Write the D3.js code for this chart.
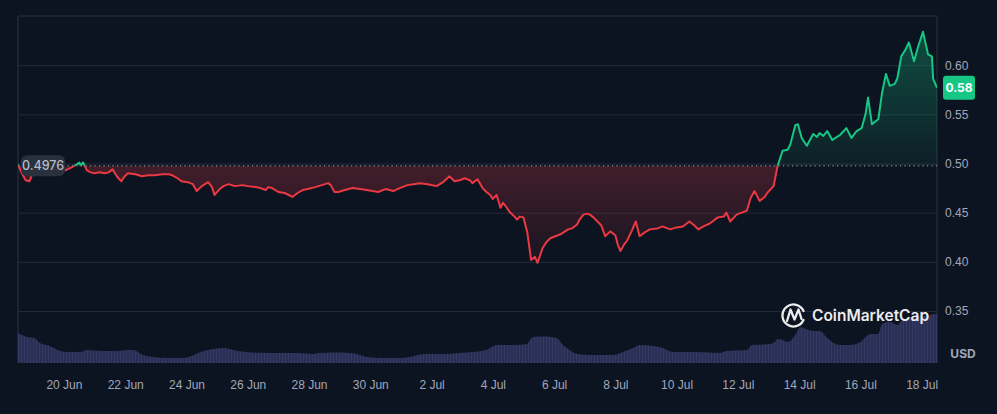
<!DOCTYPE html>
<html><head><meta charset="utf-8">
<script src="https://cdn.jsdelivr.net/npm/d3@7"></script>
<style>
html,body{margin:0;padding:0;background:#0d1421;}
svg{display:block;font-family:Inter,"Noto Sans",sans-serif;}
</style></head>
<body>
<svg id="c" width="997" height="414"></svg>
<script>
// ---- data (hours since 18 Jun 12:00) ----
const priceHours = [0,3,6,9,12,17,25,31,37,42,46,48,49,51,54,57,60,64,68,71,74,78,81,83,86,92,97,102,107,113,118,121,125,128,133,137,140,144,149,152,154,158,161,165,170,176,180,186,190,194,196,199,204,209,215,219,223,227,233,238,243,245,248,251,256,262,268,273,278,282,288,294,299,305,310,315,321,328,333,338,342,346,350,354,356,360,364,367,370,372,375,378,380,383,385,389,391,393,396,399,402,405,407,411,414,417,421,425,431,434,438,440,443,446,448,451,454,457,460,464,468,470,472,475,477,481,484,487,491,495,501,505,511,516,521,526,530,533,537,542,548,553,555,558,563,567,571,574,577,581,585,587,592,595,599,603,605,609,611,614,618,623,626,628,631,634,638,644,649,653,657,661,664,666,669,674,677,680,683,687,689,692,695,698,702,705,709,713,716,717,720];
const priceValues = [0.499,0.490,0.483,0.482,0.492,0.496,0.495,0.494,0.493,0.496,0.499,0.501,0.498,0.501,0.493,0.491,0.490,0.491,0.490,0.491,0.494,0.486,0.482,0.486,0.490,0.489,0.487,0.488,0.488,0.489,0.489,0.488,0.485,0.482,0.481,0.479,0.472,0.477,0.481,0.476,0.468,0.474,0.477,0.479,0.477,0.478,0.477,0.476,0.475,0.473,0.476,0.475,0.471,0.470,0.466,0.470,0.473,0.474,0.476,0.478,0.480,0.478,0.471,0.471,0.473,0.475,0.474,0.473,0.472,0.471,0.474,0.472,0.475,0.478,0.479,0.480,0.479,0.477,0.481,0.487,0.482,0.483,0.485,0.483,0.480,0.484,0.475,0.471,0.468,0.464,0.468,0.455,0.460,0.455,0.451,0.446,0.443,0.446,0.445,0.430,0.402,0.405,0.399,0.414,0.420,0.424,0.426,0.428,0.433,0.434,0.438,0.443,0.448,0.449,0.448,0.445,0.441,0.437,0.426,0.431,0.427,0.417,0.411,0.418,0.421,0.432,0.441,0.426,0.430,0.433,0.434,0.436,0.433,0.435,0.436,0.441,0.437,0.433,0.436,0.439,0.445,0.446,0.450,0.441,0.448,0.450,0.452,0.465,0.472,0.462,0.466,0.470,0.477,0.497,0.513,0.514,0.519,0.539,0.540,0.526,0.518,0.530,0.527,0.531,0.528,0.533,0.524,0.529,0.536,0.526,0.533,0.536,0.550,0.567,0.540,0.545,0.572,0.591,0.579,0.581,0.587,0.609,0.615,0.623,0.604,0.618,0.634,0.611,0.609,0.586,0.577];
const volumeHours = [0,7,13,17,25,31,38,49,54,64,78,85,90,98,106,117,129,136,143,153,161,166,172,179,195,208,221,229,237,247,260,268,273,286,299,307,315,325,336,346,356,367,375,388,399,401,404,414,422,427,432,438,448,466,474,482,487,498,505,513,532,550,555,571,575,589,593,595,599,603,609,613,617,623,628,634,639,644,652,660,664,668,674,677,683,689,693,701,707,712,718,720];
const volumeValues = [60,52,50,40,34,26,22,22,26,24,24,26,26,16,12,10,10,14,22,28,30,28,24,22,20,20,20,18,20,21,20,16,12,10,10,12,17,18,18,20,22,26,36,36,38,46,52,53,50,36,26,18,16,16,22,30,36,34,30,22,22,20,24,26,36,38,42,48,46,42,56,72,68,64,64,50,40,36,36,42,52,58,58,78,82,76,86,90,94,94,98,98];
const yTicks = [0.35,0.40,0.45,0.50,0.55,0.60];
const xTickDates = ["2024-06-20","2024-06-22","2024-06-24","2024-06-26","2024-06-28","2024-06-30","2024-07-02","2024-07-04","2024-07-06","2024-07-08","2024-07-10","2024-07-12","2024-07-14","2024-07-16","2024-07-18"];
const baselinePrice = 0.4976;
const lastPriceLabel = "0.58";
const startTime = new Date(2024,5,18,12,0,0);

// ---- layout ----
const L=18, R=937, T=16, B=363;
const toDate = h => new Date(startTime.getTime()+h*3600e3);
const prices = priceHours.map((h,i)=>({t:toDate(h), v:priceValues[i]}));
const vols = volumeHours.map((h,i)=>({t:toDate(h), v:volumeValues[i]}));

const x = d3.scaleTime().domain([toDate(0), toDate(720)]).range([L,R]);
const y = d3.scaleLinear().domain([0.35,0.65]).range([311,T]);
const yv = d3.scaleLinear().domain([0,100]).range([B,B-50]);

const svg = d3.select("#c");
svg.append("rect").attr("width",997).attr("height",414).attr("fill","#0d1421");
const defs = svg.append("defs");
const yb = y(baselinePrice);

const gR = defs.append("linearGradient").attr("id","gRed").attr("gradientUnits","userSpaceOnUse")
  .attr("x1",0).attr("x2",0).attr("y1",yb).attr("y2",y(0.395));
gR.append("stop").attr("offset",0).attr("stop-color","#ea3943").attr("stop-opacity",0.24);
gR.append("stop").attr("offset",1).attr("stop-color","#ea3943").attr("stop-opacity",0.04);
const gG = defs.append("linearGradient").attr("id","gGreen").attr("gradientUnits","userSpaceOnUse")
  .attr("x1",0).attr("x2",0).attr("y1",y(0.635)).attr("y2",yb);
gG.append("stop").attr("offset",0).attr("stop-color","#16c784").attr("stop-opacity",0.32);
gG.append("stop").attr("offset",1).attr("stop-color","#16c784").attr("stop-opacity",0.06);

defs.append("clipPath").attr("id","clipTop").append("rect").attr("x",L).attr("y",0).attr("width",R-L).attr("height",yb);
defs.append("clipPath").attr("id","clipBot").append("rect").attr("x",L).attr("y",yb).attr("width",R-L).attr("height",414-yb);

const pat = defs.append("pattern").attr("id","volPat").attr("patternUnits","userSpaceOnUse").attr("width",3).attr("height",10);
pat.append("rect").attr("width",3).attr("height",10).attr("fill","#292e53");
pat.append("rect").attr("width",1).attr("height",10).attr("fill","#343a66");

// grid + right axis
const yAxis = d3.axisRight(y).tickValues(yTicks).tickSize(-(R-L)).tickPadding(8).tickFormat(d3.format(".2f"));
const gy = svg.append("g").attr("transform",`translate(${R},0)`).call(yAxis);
gy.select(".domain").remove();
gy.selectAll("line").attr("stroke","#222a39").attr("stroke-width",1);
gy.selectAll("text").attr("fill","#a1a7bb").attr("font-size",12);

// frame
svg.append("path").attr("d",`M${L},${B}V${T}H${R}V${B}`).attr("fill","none").attr("stroke","#2b3343").attr("stroke-width",1);

// volume
svg.append("path").datum(vols)
  .attr("d", d3.area().x(d=>x(d.t)).y0(B).y1(d=>yv(d.v)).curve(d3.curveMonotoneX))
  .attr("fill","url(#volPat)");

// price area
const area = d3.area().x(d=>x(d.t)).y0(yb).y1(d=>y(d.v)).curve(d3.curveLinear);
svg.append("path").datum(prices).attr("d",area).attr("fill","url(#gGreen)").attr("clip-path","url(#clipTop)");
svg.append("path").datum(prices).attr("d",area).attr("fill","url(#gRed)").attr("clip-path","url(#clipBot)");

// baseline dotted
svg.append("line").attr("x1",L).attr("x2",R).attr("y1",yb).attr("y2",yb)
  .attr("stroke","#c8ccd6").attr("stroke-width",1).attr("stroke-dasharray","1.2,3.3").attr("opacity",0.8);

const line = d3.line().x(d=>x(d.t)).y(d=>y(d.v));
svg.append("path").datum(prices).attr("d",line).attr("fill","none").attr("stroke","#16c784").attr("stroke-width",2).attr("stroke-linejoin","round").attr("clip-path","url(#clipTop)");
svg.append("path").datum(prices).attr("d",line).attr("fill","none").attr("stroke","#ea3943").attr("stroke-width",2).attr("stroke-linejoin","round").attr("clip-path","url(#clipBot)");

// x axis
const xAxis = d3.axisBottom(x).tickValues(xTickDates.map(s=>{const p=s.split("-");return new Date(+p[0],+p[1]-1,+p[2]);}))
  .tickSize(0).tickPadding(17).tickFormat(d3.timeFormat("%-d %b"));
const gx = svg.append("g").attr("transform",`translate(0,${B})`).call(xAxis);
gx.select(".domain").remove();
gx.selectAll("text").attr("fill","#a1a7bb").attr("font-size",12);

// USD
svg.append("text").attr("x",963).attr("y",358).attr("text-anchor","middle").attr("fill","#a1a7bb")
  .attr("font-size",12).attr("font-weight",700).text("USD");

// baseline label
const bl = svg.append("g");
bl.append("rect").attr("x",21).attr("y",yb-10.5).attr("width",44).attr("height",21).attr("rx",6).attr("fill","#2a303c");
bl.append("text").attr("x",43).attr("y",yb+4.5).attr("text-anchor","middle").attr("fill","#b4b9c6").attr("font-size",12.5).attr("font-weight",500).text(baselinePrice.toFixed(4));

// last price label
const lp = prices[prices.length-1];
svg.append("rect").attr("x",943).attr("y",y(lp.v)-12).attr("width",32).attr("height",24).attr("rx",3).attr("fill","#16c784");
svg.append("text").attr("x",959).attr("y",y(lp.v)+4.5).attr("text-anchor","middle").attr("fill","#ffffff").attr("font-size",12).attr("font-weight",700).text(lastPriceLabel);

// watermark
const wm = svg.append("g").attr("opacity",0.92);
wm.append("path").attr("d","M803.5,311 A11,11 0 1 0 803.5,320").attr("fill","none").attr("stroke","#fff").attr("stroke-width",2.3).attr("stroke-linecap","round");
wm.append("path").attr("d","M787,321 L790.5,309.5 L794.5,319.5 L798.5,309.5 L801.5,319").attr("fill","none").attr("stroke","#fff").attr("stroke-width",2.3).attr("stroke-linejoin","round").attr("stroke-linecap","round");
wm.append("text").attr("x",812).attr("y",321).attr("fill","#fff").attr("font-size",15.5).attr("font-weight",600).text("CoinMarketCap");
</script>
</body></html>
